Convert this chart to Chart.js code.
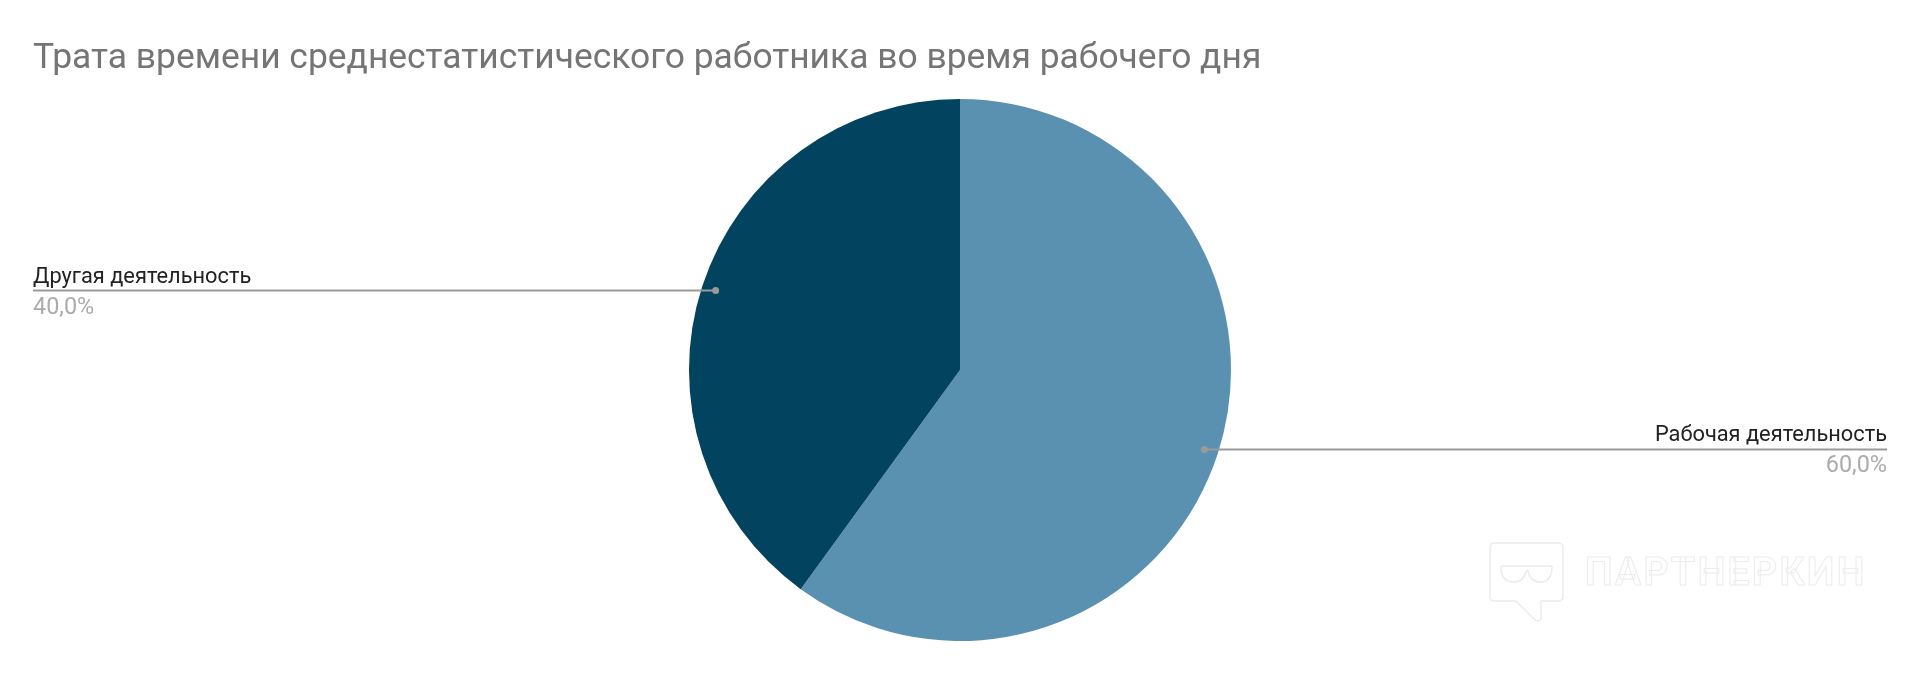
<!DOCTYPE html>
<html><head><meta charset="utf-8">
<style>html,body{margin:0;padding:0;background:#fff;overflow:hidden}#w{position:relative;width:1920px;height:675px}canvas{display:block;filter:blur(0.45px)}</style>
<script src="https://cdn.jsdelivr.net/npm/chart.js@4/dist/chart.umd.min.js"></script>
</head><body><div id="w"><canvas id="c" width="1920" height="675" style="width:1920px;height:675px"></canvas></div>
<script>
const titleText = 'Трата времени среднестатистического работника во время рабочего дня';
const categories = ['Рабочая деятельность', 'Другая деятельность'];
const values = [60, 40];
const valueLabels = ['60,0%', '40,0%'];
const colors = ['#5a91b0', '#02445f'];
const watermarkText = 'ПАРТНЕРКИН';
const FONT = 'Roboto, "Liberation Sans", sans-serif';

const calloutPlugin = {
  id: 'callouts',
  afterDatasetsDraw(chart) {
    const ctx = chart.ctx, arcs = chart.getDatasetMeta(0).data;
    const left = 33, right = 1887;
    ctx.save();
    arcs.forEach((arc, i) => {
      const mid = (arc.startAngle + arc.endAngle) / 2;
      const r = arc.outerRadius * 0.948;
      const x = arc.x + Math.cos(mid) * r, y = arc.y + Math.sin(mid) * r;
      const isRight = Math.cos(mid) > 0;
      ctx.strokeStyle = '#9a9a9a'; ctx.lineWidth = 2;
      ctx.beginPath(); ctx.moveTo(x, y); ctx.lineTo(isRight ? right : left, y); ctx.stroke();
      ctx.fillStyle = '#9a9a9a';
      ctx.beginPath(); ctx.arc(x, y, 3.5, 0, Math.PI * 2); ctx.fill();
      ctx.textAlign = isRight ? 'right' : 'left';
      ctx.textBaseline = 'alphabetic';
      ctx.font = '21.8px ' + FONT;
      ctx.fillStyle = '#222222';
      ctx.fillText(categories[i], isRight ? right : left, y - 8);
      ctx.font = '23.4px ' + FONT;
      ctx.fillStyle = '#ababab';
      ctx.fillText(valueLabels[i], isRight ? right : left, y + 23);
    });
    // faint watermark
    ctx.strokeStyle = '#ececec'; ctx.lineWidth = 1.5;
    ctx.lineJoin = 'round';
    ctx.beginPath();
    ctx.moveTo(1495, 543); ctx.lineTo(1558, 543);
    ctx.quadraticCurveTo(1563, 543, 1563, 548);
    ctx.lineTo(1563, 596); ctx.quadraticCurveTo(1563, 601, 1558, 601);
    ctx.lineTo(1541, 601); ctx.lineTo(1541, 619);
    ctx.quadraticCurveTo(1538, 623, 1534, 619);
    ctx.lineTo(1516, 601); ctx.lineTo(1495, 601);
    ctx.quadraticCurveTo(1490, 601, 1490, 596);
    ctx.lineTo(1490, 548); ctx.quadraticCurveTo(1490, 543, 1495, 543);
    ctx.closePath(); ctx.stroke();
    ctx.beginPath();
    ctx.moveTo(1501, 566); ctx.lineTo(1552, 566);
    ctx.moveTo(1501, 566); ctx.quadraticCurveTo(1501, 582, 1513, 582); ctx.quadraticCurveTo(1524, 582, 1526, 571);
    ctx.lineTo(1528, 571);
    ctx.quadraticCurveTo(1530, 582, 1541, 582); ctx.quadraticCurveTo(1552, 582, 1552, 566);
    ctx.stroke();
    ctx.textAlign = 'left';
    ctx.font = 'bold 39px ' + FONT;
    ctx.letterSpacing = '2.4px';
    ctx.lineWidth = 1;
    ctx.strokeText(watermarkText, 1585, 585);
    ctx.restore();
  }
};

new Chart(document.getElementById('c'), {
  type: 'pie',
  data: { labels: categories, datasets: [{ data: values, backgroundColor: colors, borderWidth: 0 }] },
  plugins: [calloutPlugin],
  options: {
    responsive: false,
    animation: false,
    devicePixelRatio: 1,
    layout: { padding: { left: 33, right: 33, top: 38, bottom: 34 } },
    plugins: {
      legend: { display: false },
      tooltip: { enabled: false },
      title: {
        display: true, text: titleText, align: 'start', color: '#757575',
        font: { family: FONT, size: 35.4, weight: 'normal', lineHeight: 1.2 },
        padding: { top: 0, bottom: 18.5 }
      }
    }
  }
});
</script>
</body></html>
